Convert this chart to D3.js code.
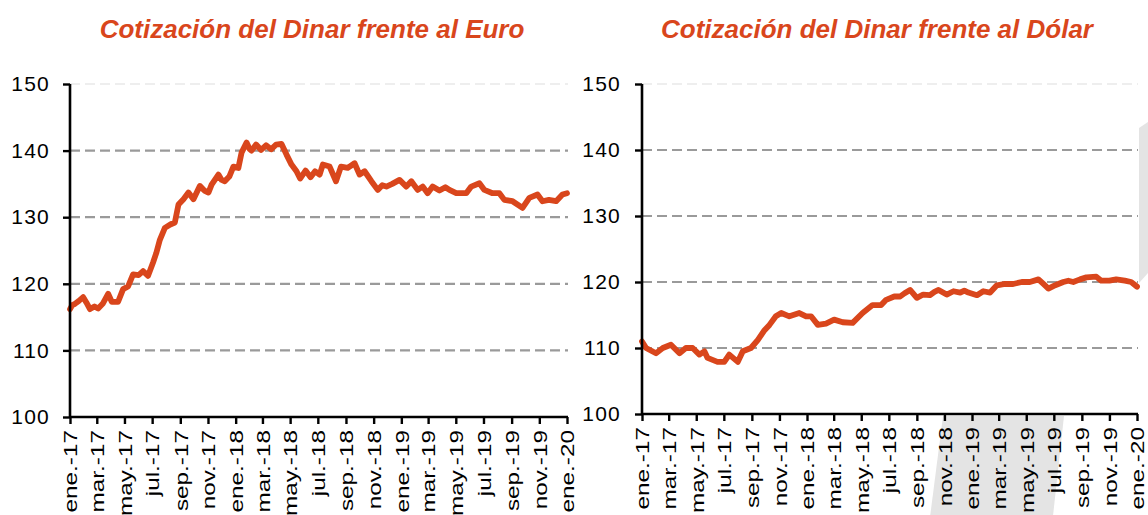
<!DOCTYPE html>
<html>
<head>
<meta charset="utf-8">
<script src="https://cdn.jsdelivr.net/npm/d3@7"></script>
<style>
  html, body { margin: 0; padding: 0; background: #fff; }
  svg { display: block; font-family: "Liberation Sans", Arial, sans-serif; }
</style>
</head>
<body>
<svg id="chart" width="1148" height="515"></svg>
<script>
// ---------- DATA ----------
const titles = ["Cotización del Dinar frente al Euro", "Cotización del Dinar frente al Dólar"];

const yTicks = [100, 110, 120, 130, 140, 150];

const xTickDates = ["2017-01-01","2017-03-01","2017-05-01","2017-07-01","2017-09-01","2017-11-01",
  "2018-01-01","2018-03-01","2018-05-01","2018-07-01","2018-09-01","2018-11-01",
  "2019-01-01","2019-03-01","2019-05-01","2019-07-01","2019-09-01","2019-11-01","2020-01-01"];
const xTickLabels = ["ene.-17","mar.-17","may.-17","jul.-17","sep.-17","nov.-17",
  "ene.-18","mar.-18","may.-18","jul.-18","sep.-18","nov.-18",
  "ene.-19","mar.-19","may.-19","jul.-19","sep.-19","nov.-19","ene.-20"];

const eurDates = ["2017-01-01","2017-01-06","2017-01-12","2017-01-20","2017-01-30","2017-02-06","2017-02-14","2017-02-24","2017-03-04","2017-03-14","2017-03-26","2017-04-03","2017-04-17","2017-04-28","2017-05-09","2017-05-20","2017-06-01","2017-06-11","2017-06-22","2017-07-03","2017-07-10","2017-07-18","2017-07-29","2017-08-10","2017-08-20","2017-08-28","2017-09-08","2017-09-19","2017-09-30","2017-10-14","2017-10-24","2017-11-02","2017-11-09","2017-11-24","2017-12-01","2017-12-08","2017-12-18","2017-12-27","2018-01-07","2018-01-14","2018-01-25","2018-02-01","2018-02-05","2018-02-15","2018-02-26","2018-03-09","2018-03-20","2018-03-31","2018-04-12","2018-04-23","2018-05-04","2018-05-15","2018-05-23","2018-06-04","2018-06-15","2018-06-25","2018-07-05","2018-07-12","2018-07-27","2018-08-10","2018-08-21","2018-09-05","2018-09-20","2018-10-01","2018-10-12","2018-10-27","2018-11-10","2018-11-20","2018-11-29","2018-12-12","2018-12-28","2019-01-12","2019-01-23","2019-02-06","2019-02-17","2019-02-28","2019-03-11","2019-03-26","2019-04-08","2019-04-17","2019-05-02","2019-05-24","2019-06-04","2019-06-22","2019-07-03","2019-07-21","2019-08-05","2019-08-16","2019-09-03","2019-09-25","2019-10-10","2019-10-28","2019-11-08","2019-11-22","2019-12-08","2019-12-22","2020-01-01"];
const eurValues = [116.2,116.8,117.0,117.4,118.0,117.2,116.2,116.6,116.3,117.0,118.5,117.3,117.3,119.2,119.6,121.4,121.3,121.9,121.2,123.2,124.6,126.6,128.4,128.9,129.2,131.9,132.7,133.7,132.7,134.7,134.0,133.7,134.9,136.4,135.6,135.4,136.1,137.6,137.4,139.7,141.2,140.2,140.0,140.9,140.1,140.8,140.2,140.9,141.0,139.4,137.9,136.9,135.8,137.0,136.0,136.9,136.4,137.9,137.6,135.4,137.6,137.4,138.1,136.4,136.9,135.4,134.1,134.8,134.6,135.0,135.6,134.6,135.4,134.1,134.6,133.6,134.6,134.0,134.5,134.1,133.6,133.6,134.6,135.1,134.1,133.6,133.6,132.6,132.4,131.4,132.9,133.4,132.4,132.6,132.4,133.4,133.6];

const usdDates = ["2017-01-01","2017-01-10","2017-02-01","2017-02-16","2017-03-06","2017-03-25","2017-04-08","2017-04-23","2017-05-08","2017-05-19","2017-05-26","2017-06-17","2017-07-02","2017-07-13","2017-08-01","2017-08-12","2017-08-30","2017-09-14","2017-09-29","2017-10-10","2017-10-24","2017-11-05","2017-11-23","2017-12-15","2017-12-30","2018-01-10","2018-01-25","2018-02-12","2018-03-02","2018-03-21","2018-04-12","2018-05-04","2018-05-26","2018-06-14","2018-06-25","2018-07-13","2018-07-26","2018-08-05","2018-08-17","2018-09-01","2018-09-15","2018-09-30","2018-10-10","2018-10-19","2018-11-06","2018-11-21","2018-12-06","2018-12-15","2018-12-24","2019-01-12","2019-01-26","2019-02-10","2019-02-25","2019-03-15","2019-04-02","2019-04-21","2019-05-09","2019-05-28","2019-06-08","2019-06-19","2019-07-01","2019-07-11","2019-07-22","2019-08-02","2019-08-13","2019-08-28","2019-09-11","2019-10-03","2019-10-14","2019-11-01","2019-11-16","2019-12-05","2019-12-19","2020-01-01"];
const usdValues = [111.0,110.0,109.2,110.0,110.5,109.2,110.0,110.0,109.0,109.5,108.5,107.9,107.9,109.0,107.9,109.5,110.0,111.2,112.7,113.5,114.8,115.3,114.8,115.3,114.8,114.8,113.5,113.7,114.3,113.9,113.8,115.3,116.5,116.5,117.3,117.8,117.8,118.3,118.8,117.6,118.1,118.0,118.5,118.8,118.1,118.6,118.4,118.7,118.4,118.0,118.6,118.4,119.5,119.7,119.7,120.0,120.0,120.4,119.7,119.0,119.4,119.7,120.0,120.2,120.0,120.4,120.7,120.8,120.2,120.2,120.4,120.2,120.0,119.3];

// ---------- DRAW ----------
const svg = d3.select("#chart");
const parse = d3.timeParse("%Y-%m-%d");
const ORANGE = "#d9461c";

// decorative grey background shapes (behind the right chart)
svg.append("polygon").attr("points", "943,416 1064,416 1052,525 929,525").attr("fill", "#e4e4e4");
svg.append("polygon").attr("points", "1139,128 1148,122 1148,273 1139,283").attr("fill", "#e4e4e4");

const panels = [
  { title: titles[0], titleX: 312, dates: eurDates, values: eurValues,
    x0: 70, x1: 567, yTop: 84, yBot: 417, labelEnd: 50 },
  { title: titles[1], titleX: 877, dates: usdDates, values: usdValues,
    x0: 642, x1: 1137, yTop: 84, yBot: 414, labelEnd: 621 }
];

panels.forEach(p => {
  const x = d3.scaleTime().domain([parse("2017-01-01"), parse("2020-01-01")]).range([p.x0, p.x1]);
  const y = d3.scaleLinear().domain([100, 150]).range([p.yBot, p.yTop]);

  // white plot background
  svg.append("rect").attr("x", p.x0).attr("y", p.yTop - 2).attr("width", p.x1 - p.x0 + 2)
    .attr("height", p.yBot - p.yTop + 2).attr("fill", "#fff");

  // title
  svg.append("text").attr("x", p.titleX).attr("y", 38).attr("text-anchor", "middle")
    .attr("font-size", 26).attr("font-weight", "bold").attr("font-style", "italic")
    .attr("fill", ORANGE).text(p.title);

  // gridlines
  svg.append("g").selectAll("line").data(yTicks.filter(d => d > 100)).join("line")
    .attr("x1", p.x0).attr("x2", p.x1 + 1)
    .attr("y1", d => y(d)).attr("y2", d => y(d))
    .attr("stroke", d => d === 150 ? "#eeeeee" : "#9a9a9a")
    .attr("stroke-width", 2.2).attr("stroke-dasharray", "10,5");

  // line
  const pts = p.dates.map((d, i) => ({ d: parse(d), v: p.values[i] }));
  svg.append("path").datum(pts)
    .attr("fill", "none").attr("stroke", ORANGE).attr("stroke-width", 5.8)
    .attr("stroke-linejoin", "round").attr("stroke-linecap", "round")
    .attr("d", d3.line().x(d => x(d.d)).y(d => y(d.v)));

  // y axis
  const yAx = svg.append("g").attr("transform", `translate(${p.x0},0)`)
    .call(d3.axisLeft(y).tickValues(yTicks).tickSize(7).tickPadding(p.x0 - 7 - p.labelEnd).tickFormat(d3.format("d")));
  yAx.select(".domain").attr("stroke", "#000").attr("stroke-width", 2.6).attr("d", `M-0,${p.yTop}V${p.yBot}`);
  yAx.selectAll(".tick line").attr("stroke", "#000").attr("stroke-width", 2.4);
  yAx.selectAll(".tick text").attr("font-size", 21).attr("letter-spacing", 1.2)
    .attr("font-family", "Liberation Sans, Arial, sans-serif").attr("fill", "#000");

  // x axis
  const tickDates = xTickDates.map(parse);
  const xAx = svg.append("g").attr("transform", `translate(0,${p.yBot})`)
    .call(d3.axisBottom(x).tickValues(tickDates).tickSize(7)
      .tickFormat((d, i) => xTickLabels[i]));
  xAx.select(".domain").attr("stroke", "#000").attr("stroke-width", 2.6).attr("d", `M${p.x0},0H${p.x1 + 1}`);
  xAx.selectAll(".tick line").attr("stroke", "#000").attr("stroke-width", 2.4);
  const sx = 1.28;
  xAx.selectAll(".tick text")
    .attr("font-size", 19).attr("font-family", "Liberation Sans, Arial, sans-serif").attr("fill", "#000")
    .attr("text-anchor", "end")
    .attr("transform", `rotate(-90) scale(${sx},1)`)
    .attr("x", -13 / sx).attr("y", 0).attr("dy", "0.36em");
});
</script>
</body>
</html>
